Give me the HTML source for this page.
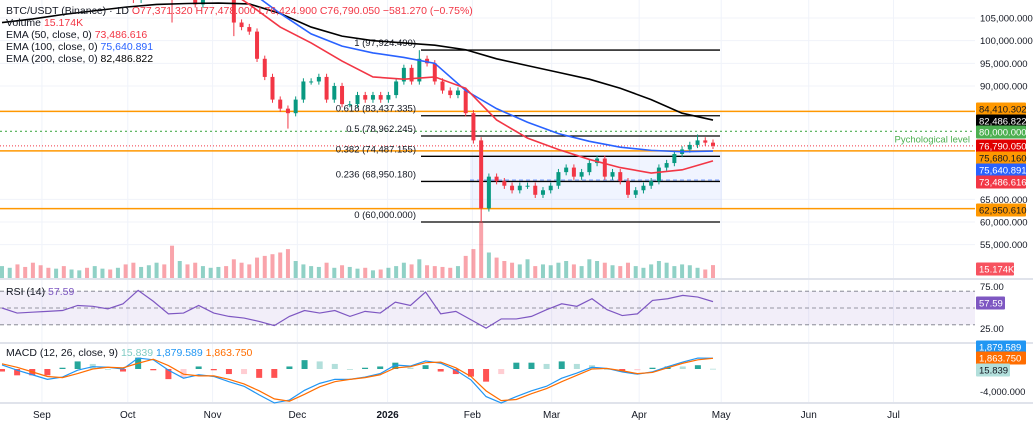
<!DOCTYPE html>
<html><head><meta charset="utf-8">
<style>
body{margin:0;background:#fff;font-family:"Liberation Sans",sans-serif;}
svg{display:block}
text{font-family:"Liberation Sans",sans-serif;}
</style></head>
<body>
<svg id="c" width="1033" height="429" viewBox="0 0 1033 429">
<defs>
<clipPath id="mainClip"><rect x="0" y="0" width="975" height="279"/></clipPath>
</defs>
<rect x="0" y="0" width="1033" height="429" fill="#fff"/>
<g id="grid"></g>
<g id="overlay" clip-path="url(#mainClip)"></g>
<g id="vol"></g>
<g id="candles" clip-path="url(#mainClip)"></g>
<g id="emas" clip-path="url(#mainClip)"></g>
<g id="rsi"></g>
<g id="macd"></g>
<g id="axis"></g>
<g id="legend">
<text x="6" y="14" font-size="10.5" fill="#131722">BTC/USDT (Binance) · 1D <tspan fill="#f23645">O77,371.320 H77,478.000 L76,424.900 C76,790.050 −581.270 (−0.75%)</tspan></text>
<text x="6" y="26" font-size="10.5" fill="#131722">Volume <tspan fill="#f23645">15.174K</tspan></text>
<text x="6" y="38" font-size="10.5" fill="#131722">EMA (50, close, 0) <tspan fill="#f23645">73,486.616</tspan></text>
<text x="6" y="50" font-size="10.5" fill="#131722">EMA (100, close, 0) <tspan fill="#2962ff">75,640.891</tspan></text>
<text x="6" y="62" font-size="10.5" fill="#131722">EMA (200, close, 0) <tspan fill="#000">82,486.822</tspan></text>
<text x="6" y="295" font-size="10.5" fill="#131722">RSI (14) <tspan fill="#7e57c2">57.59</tspan></text>
<text x="6" y="356" font-size="10.5" fill="#131722">MACD (12, 26, close, 9) <tspan fill="#80cbc4">15.839</tspan> <tspan fill="#2196f3">1,879.589</tspan> <tspan fill="#ff6d00">1,863.750</tspan></text>
</g>
</svg>
<script>
// ---- data ----
const closes = [
119,121,118,117,113,112,111,113,110,
111,112,111,115,116,115,117,113,109,112,
120,123,121,113,115,111,108,111,111,113,
110,104,103,102,96,92,87,85,84,87,91,
91,92,87,90,86,86,88,87,88,87,
88,91,94,91,96,95,91,89,88,89,84,
78,63,70,69,68,67,68,68,66,67,
68,71,72,70,71,73,74,70,71,69,66,
67,68,69,72,73,75,76,77,78,77.5,76.79];
const lowOverrides = {22:104, 37:80.6, 62:60, 30:101};
const highOverrides = {54:97.9, 90:79.3};
const volumes = [
14,12,16,13,18,15,12,11,14,
10,9,12,14,11,10,12,16,18,13,
15,18,16,38,20,16,18,14,12,13,
14,22,18,16,24,26,28,30,34,20,16,
14,13,18,12,15,13,11,12,9,10,
12,14,18,16,22,15,14,13,12,14,26,
34,66,30,24,20,18,16,22,14,16,
15,18,20,16,14,22,20,18,15,14,18,
14,12,16,20,18,14,16,15,12,10,15.174];
const ema50 = [113,113.5,114,114.8,115.5,115.8,115,112.5,108,103,99.5,95.5,92,91.5,92,89.5,82.5,78.5,76,73.8,72,70.8,71.5,73.49];
const ema100 = [112,112.5,113,113.5,114,114.5,114.8,113.8,111,106,101.5,98.8,97.3,96.3,95,89,85,82,79.5,77.8,76.5,75.8,75.5,75.64];
const ema200 = [104,104.8,105.8,106.6,107.4,108,108.2,108.3,108.1,106,103,101,100,99.5,99,98,96,94.5,93,91.5,89.5,87,84,82.49];
const rsiVals = [50,44,45,46,47,53,52,49,55,71,58,43,44,53,44,40,38,34,29,40,47,44,47,40,46,44,57,53,69,43,46,36,26,37,37,40,48,55,52,61,48,41,43,59,61,65,63,57.59];
const macdVals = [0.7,-0.2,-1,-1.8,-1.4,-0.2,0.4,0.3,0,1.9,1.6,-0.2,-1.6,-1,-1.3,-2.2,-3,-4.5,-5.9,-5.4,-3.7,-2.5,-1.8,-1.8,-1.4,-0.8,0.7,0.5,1.4,1,-0.2,-1.9,-4.8,-5.9,-4.8,-3.8,-3,-1.6,-0.7,0.3,0.1,-0.5,-0.9,-0.5,0.4,1.2,1.9,1.88];
const signalVals = [0.9,0.3,-0.5,-1.3,-1.5,-0.8,0,0.3,0.2,1,1.7,0.6,-0.9,-1.2,-1.2,-1.8,-2.6,-3.8,-5.2,-5.6,-4.4,-3.1,-2.2,-1.8,-1.5,-1,0.2,0.4,1.1,1.2,0.2,-1.3,-3.8,-5.5,-5.3,-4.3,-3.4,-2.2,-1.1,0,0.1,-0.3,-0.8,-0.6,0.2,1,1.6,1.86];
const priceTicks = [105,100,95,90,65,60,55];
const monthLabels = ["Sep","Oct","Nov","Dec","2026","Feb","Mar","Apr","May","Jun","Jul"];
const monthDays = [14.6,46,77,108,141,172,201,233,263,295,326];
const fibLevels = [[1,97.92449],[0.618,83.437335],[0.5,78.962245],[0.382,74.487155],[0.236,68.95018],[0,60]];
const fibText = ["1 (97,924.490)","0.618 (83,437.335)","0.5 (78,962.245)","0.382 (74,487.155)","0.236 (68,950.180)","0 (60,000.000)"];
const orangeLevels = [84.410302,75.68016,62.95061];
const tagValues = [["84,410.302","#ff9800","#131722",109],["82,486.822","#000","#fff",121],["80,000.000","#4caf50","#fff",132],["76,790.050","#e00000","#fff",146],["75,680.160","#ff9800","#131722",158],["75,640.891","#2962ff","#fff",170],["73,486.616","#f23645","#fff",182],["62,950.610","#ff9800","#131722",210]];

// ---- scales ----
const NS="http://www.w3.org/2000/svg";
const X0=2, X1=713, DAYS_TOTAL=260;
const yP = p => 18 + (105 - p) * 4.533;
const xI = (i,n) => X0 + i*(X1-X0)/(n-1);
const xDay = d => X0 + d*(X1-X0)/DAYS_TOTAL;
const yR = r => 308 - (r-50)*0.84;
const yM = m => 369 - m*5.75;
const yV = v => 278 - v*0.85;
function mk(tag, attrs, parent){const e=document.createElementNS(NS,tag);for(const k in attrs)e.setAttribute(k,attrs[k]);parent.appendChild(e);return e;}
const G=id=>document.getElementById(id);

// grid
const grid=G('grid');
monthDays.forEach(d=>{const l=mk('line',{x1:xDay(d),x2:xDay(d),y1:0,y2:403,stroke:'#f0f3fa','stroke-width':1},grid);

});
priceTicks.forEach(p=>{const l=mk('line',{x1:0,x2:975,y1:yP(p),y2:yP(p),stroke:'#f0f3fa'},grid);

});
[279,343,403].forEach(y=>{const l=mk('line',{x1:0,x2:1033,y1:y,y2:y,stroke:'#e0e3eb','stroke-width':2},grid);

});

// overlays
const ov=G('overlay');
const box=mk('rect',{x:470,y:yP(75.68),width:252,height:yP(62.95)-yP(75.68),fill:'#2962ff','fill-opacity':0.07},ov);


const bd=mk('line',{x1:470,x2:722,y1:180,y2:180,stroke:'#2962ff','stroke-dasharray':'4 3','stroke-opacity':0.6},ov);


orangeLevels.forEach(v=>{const l=mk('line',{x1:0,x2:975,y1:yP(v),y2:yP(v),stroke:'#ff9800','stroke-width':1.5},ov);

});
const gl=mk('line',{x1:0,x2:975,y1:yP(80),y2:yP(80),stroke:'#4caf50','stroke-dasharray':'2 3','stroke-width':1.2},ov);


const pt=mk('text',{x:970,y:yP(80)+11,'font-size':9.5,fill:'#4caf50','text-anchor':'end'},ov);pt.textContent='Pychological level';


const rl=mk('line',{x1:0,x2:975,y1:yP(76.79),y2:yP(76.79),stroke:'#f23645','stroke-dasharray':'1 2','stroke-width':1},ov);


fibLevels.forEach((f,i)=>{const y=yP(f[1]);
const l=mk('line',{x1:421,x2:720,y1:y,y2:y,stroke:'#000','stroke-width':1.3},ov);


const t=mk('text',{x:416,y:y-4,'font-size':9.5,fill:'#131722','text-anchor':'end'},ov);t.textContent=fibText[i];

});

// volume
const vg=G('vol');const n=closes.length;
volumes.forEach((v,i)=>{const up=i===0||closes[i]>=closes[i-1];
const r=mk('rect',{x:xI(i,n)-2,y:yV(v),width:4,height:278-yV(v),fill:up?'#089981':'#f23645','fill-opacity':0.45},vg);

});

// candles
const cg=G('candles');
closes.forEach((c,i)=>{const o=i===0?c-1:closes[i-1];const up=c>=o;const col=up?'#089981':'#f23645';
const hi=highOverrides[i]!==undefined?highOverrides[i]:Math.max(o,c)+0.7;
const lo=lowOverrides[i]!==undefined?lowOverrides[i]:Math.min(o,c)-0.7;
const x=xI(i,n);
const w=mk('line',{x1:x,x2:x,y1:yP(hi),y2:yP(lo),stroke:col,'stroke-width':1},cg);


const b=mk('rect',{x:x-2,y:yP(Math.max(o,c)),width:4,height:Math.max(1,Math.abs(yP(o)-yP(c))),fill:col},cg);

});

// emas
const eg=G('emas');
[[ema200,'#000','ema200-line'],[ema100,'#2962ff','ema100-line'],[ema50,'#f23645','ema50-line']].forEach(([arr,col,name])=>{
const pts=arr.map((v,i)=>xI(i,arr.length)+','+yP(v)).join(' ');
const pl=mk('polyline',{points:pts,fill:'none',stroke:col,'stroke-width':1.6},eg);

});

// rsi
const rg=G('rsi');
const rb=mk('rect',{x:0,y:yR(70),width:975,height:yR(30)-yR(70),fill:'#7e57c2','fill-opacity':0.1},rg);


[70,50,30].forEach(v=>{const l=mk('line',{x1:0,x2:975,y1:yR(v),y2:yR(v),stroke:'#787b86','stroke-dasharray':'4 3','stroke-width':0.8},rg);

});
const rp=mk('polyline',{points:rsiVals.map((v,i)=>xI(i,rsiVals.length)+','+yR(v)).join(' '),fill:'none',stroke:'#7e57c2','stroke-width':1.2},rg);



// macd
const mg=G('macd');
macdVals.forEach((m,i)=>{const h=m-signalVals[i];const prev=i?macdVals[i-1]-signalVals[i-1]:0;
let col=h>=0?(h>=prev?'#26a69a':'#b2dfdb'):(h<=prev?'#ff5252':'#ffcdd2');
const y1=Math.min(yM(0),yM(h*2.2)),hh=Math.abs(yM(h*2.2)-yM(0));
const r=mk('rect',{x:xI(i,macdVals.length)-3,y:y1,width:6,height:Math.max(0.8,hh),fill:col},mg);

});
[[macdVals,'#2196f3','macd-line'],[signalVals,'#ff6d00','signal-line']].forEach(([arr,col,name])=>{
const pl=mk('polyline',{points:arr.map((v,i)=>xI(i,arr.length)+','+yM(v)).join(' '),fill:'none',stroke:col,'stroke-width':1.2},mg);

});

// axes
const ax=G('axis');
priceTicks.forEach(p=>{const t=mk('text',{x:980,y:yP(p)+3.5,'font-size':9.5,fill:'#131722'},ax);t.textContent=(p*1000).toLocaleString('en-US')+'.000';

});
[['75.00',yR(75)+3],['25.00',yR(25)+3],['-4,000.000',yM(-4)+3]].forEach(([s,y])=>{const t=mk('text',{x:980,y:y,'font-size':9.5,fill:'#131722'},ax);t.textContent=s;

});
monthLabels.forEach((m,i)=>{const t=mk('text',{x:xDay(monthDays[i]),y:418,'font-size':10,fill:'#131722','text-anchor':'middle','font-weight':m==='2026'?'bold':'normal'},ax);t.textContent=m;

});
function tag(s,bg,fg,y,name,x,w){const r=mk('rect',{x:x||976,y:y-6.5,width:w||50,height:13,fill:bg,rx:1},ax);


const t=mk('text',{x:(x||976)+3,y:y+3.5,'font-size':9.5,fill:fg},ax);t.textContent=s;

}
tagValues.forEach(v=>tag(v[0],v[1],v[2],v[3],'price-tag'));
tag('15.174K','#f7525f','#fff',269,'volume-tag',976,38);
tag('57.59','#7e57c2','#fff',303,'rsi-tag',976,29);
tag('1,879.589','#2196f3','#fff',347,'macd-tag');
tag('1,863.750','#ff6d00','#fff',358,'signal-tag');
tag('15.839','#b2dfdb','#131722',370,'histogram-tag',976,34);
</script>
</body></html>
